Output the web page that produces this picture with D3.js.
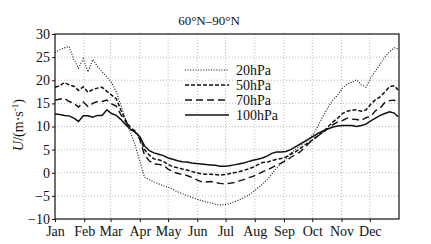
<!DOCTYPE html>
<html><head><meta charset="utf-8">
<script src="https://cdn.jsdelivr.net/npm/d3@7"></script>
<style>
html,body{margin:0;padding:0;background:#fff;}
svg text{fill:#111;}
</style></head>
<body>
<svg id="c" width="431" height="244"></svg>
<script>
const title = "60°N–90°N";
const months = ["Jan","Feb","Mar","Apr","May","Jun","Jul","Aug","Sep","Oct","Nov","Dec"];
const monthStart = [0,31,59,90,120,151,181,212,243,273,304,334];
const yTicks = [-10,-5,0,5,10,15,20,25,30];
const seriesNames = ["20hPa","50hPa","70hPa","100hPa"];
const days = [0,5,10,15,20,25,30,35,40,45,50,55,60,65,70,75,80,85,90,95,100,105,110,115,120,125,130,135,140,145,150,155,160,165,170,175,180,185,190,195,200,205,210,215,220,225,230,235,240,245,250,255,260,265,270,275,280,285,290,295,300,305,310,315,320,325,330,335,340,345,350,355,360,364];
const u20 = [26.0,26.6,27.0,27.3,24.5,22.6,24.7,21.8,24.5,23.0,21.8,20.8,19.5,17.5,14.5,11.5,8.8,6.0,2.5,-1.0,-1.5,-2.0,-2.4,-2.8,-3.1,-3.6,-4.1,-4.5,-4.9,-5.3,-5.7,-6.0,-6.3,-6.5,-6.8,-7.0,-6.9,-6.7,-6.3,-5.9,-5.4,-4.9,-4.2,-3.3,-2.5,-1.5,-0.3,1.0,2.0,3.0,4.2,5.0,5.8,6.6,7.4,8.6,10.5,12.5,14.2,15.8,16.8,18.3,19.2,19.6,20.1,19.0,18.5,20.5,22.0,23.5,25.0,26.2,27.0,26.8];
const u50 = [18.5,18.8,19.5,19.0,18.7,17.8,18.6,17.4,18.0,18.3,18.5,17.6,16.8,16.0,13.5,11.3,9.8,9.0,7.6,5.0,3.8,3.0,2.8,2.5,1.8,1.3,1.1,0.8,0.6,0.3,0.0,-0.2,-0.3,-0.3,-0.4,-0.5,-0.4,-0.2,0.0,0.2,0.5,0.8,1.2,1.7,2.2,2.3,2.6,2.9,3.1,3.4,4.0,4.5,5.2,6.0,6.7,7.3,8.2,8.9,10.0,11.0,11.8,12.8,13.3,13.5,13.6,13.3,13.6,14.8,15.8,16.4,17.5,18.6,18.8,17.9];
const u70 = [15.7,15.9,16.1,15.4,15.0,14.2,15.3,14.3,15.0,15.4,15.4,15.7,14.9,14.4,12.5,11.0,9.5,8.8,7.2,3.8,2.6,1.9,1.8,1.6,0.8,0.2,-0.1,-0.4,-0.6,-1.0,-1.5,-1.9,-2.0,-1.9,-2.1,-2.3,-2.4,-2.3,-2.1,-1.8,-1.5,-1.1,-0.8,-0.3,0.2,0.6,1.1,1.6,2.1,2.6,3.3,3.9,4.5,5.5,6.5,7.4,8.1,8.9,9.6,10.4,11.0,11.3,11.8,11.6,11.5,11.3,11.9,12.2,13.4,14.0,15.2,15.6,15.7,14.9];
const u100 = [12.7,12.6,12.4,12.3,11.8,11.1,12.3,12.3,12.0,12.4,12.4,13.6,12.8,12.4,11.5,10.4,9.4,8.8,7.8,5.8,4.8,4.3,4.0,3.7,3.2,2.9,2.6,2.4,2.3,2.1,2.0,1.9,1.8,1.7,1.6,1.4,1.4,1.5,1.7,1.9,2.1,2.4,2.7,2.9,3.2,3.6,4.2,4.5,4.5,4.6,5.0,5.6,6.2,6.8,7.4,8.0,8.6,9.1,9.5,9.9,10.1,10.2,10.2,10.2,10.0,10.2,10.5,11.2,11.8,12.4,12.8,13.2,12.9,12.1];

const series = [
  {name: seriesNames[0], values: u20, dash: "1,1.6", width: 1.1},
  {name: seriesNames[1], values: u50, dash: "4,2", width: 1.5},
  {name: seriesNames[2], values: u70, dash: "7,4", width: 1.4},
  {name: seriesNames[3], values: u100, dash: null, width: 1.5}
];
const FONT = "Liberation Serif";

const svg = d3.select("#c");
const m = {l: 55, r: 399, t: 34, b: 219};
const x = d3.scaleLinear().domain([0, 365]).range([m.l, m.r]);
const y = d3.scaleLinear().domain([-10, 30]).range([m.b, m.t]);

// grid
const g = svg.append("g");
g.selectAll(".gy").data(yTicks.slice(1,-1)).join("line")
  .attr("x1", m.l).attr("x2", m.r).attr("y1", d=>y(d)).attr("y2", d=>y(d))
  .attr("stroke", "#bbb").attr("stroke-width", 1).attr("stroke-dasharray", "1,2");
g.selectAll(".gx").data(monthStart.slice(1)).join("line")
  .attr("x1", d=>x(d)).attr("x2", d=>x(d)).attr("y1", m.t).attr("y2", m.b)
  .attr("stroke", "#bbb").attr("stroke-width", 1).attr("stroke-dasharray", "1,2");

// axes
const yAxis = d3.axisLeft(y).tickValues(yTicks).tickSize(3).tickPadding(2);
const ya = svg.append("g").attr("transform", `translate(${m.l},0)`).call(yAxis).attr("font-family", FONT).attr("font-size", 14);
ya.select(".domain").remove();
ya.selectAll("line").attr("stroke", "#111");

const xAxis = d3.axisBottom(x).tickValues(monthStart).tickFormat((d,i)=>months[i]).tickSize(3).tickPadding(4);
const xa = svg.append("g").attr("transform", `translate(0,${m.b})`).call(xAxis).attr("font-family", FONT).attr("font-size", 14);
xa.select(".domain").remove();
xa.selectAll("line").attr("stroke", "#111");

// frame
svg.append("rect").attr("x", m.l).attr("y", m.t).attr("width", m.r - m.l).attr("height", m.b - m.t)
  .attr("fill", "none").attr("stroke", "#111").attr("stroke-width", 1.2);

// lines
const line = d3.line().x((d,i)=>x(days[i])).y(d=>y(d)).curve(d3.curveLinear);
series.forEach(s => {
  svg.append("path").datum(s.values).attr("d", line)
    .attr("fill", "none").attr("stroke", "#111").attr("stroke-width", s.width)
    .attr("stroke-dasharray", s.dash);
});

// legend
const lg = svg.append("g");
series.forEach((s, i) => {
  const ly = 70 + i * 15;
  lg.append("line").attr("x1", 185).attr("x2", 229).attr("y1", ly).attr("y2", ly)
    .attr("stroke", "#111").attr("stroke-width", s.width).attr("stroke-dasharray", s.dash);
  lg.append("text").attr("x", 236).attr("y", ly + 4.5).attr("font-size", 14).attr("font-family", FONT).text(s.name);
});

// title
svg.append("text").attr("x", 209).attr("y", 25).attr("text-anchor", "middle").attr("font-size", 13).attr("font-family", FONT).text(title);

// y label
const yl = svg.append("text").attr("transform", "translate(23,125) rotate(-90)").attr("text-anchor", "middle").attr("font-size", 14).attr("font-family", FONT);
yl.append("tspan").attr("font-style", "italic").text("U");
yl.append("tspan").text("/(m·s");
yl.append("tspan").attr("dy", -5).attr("font-size", 9).text("-1");
yl.append("tspan").attr("dy", 5).text(")");
</script>
</body></html>
